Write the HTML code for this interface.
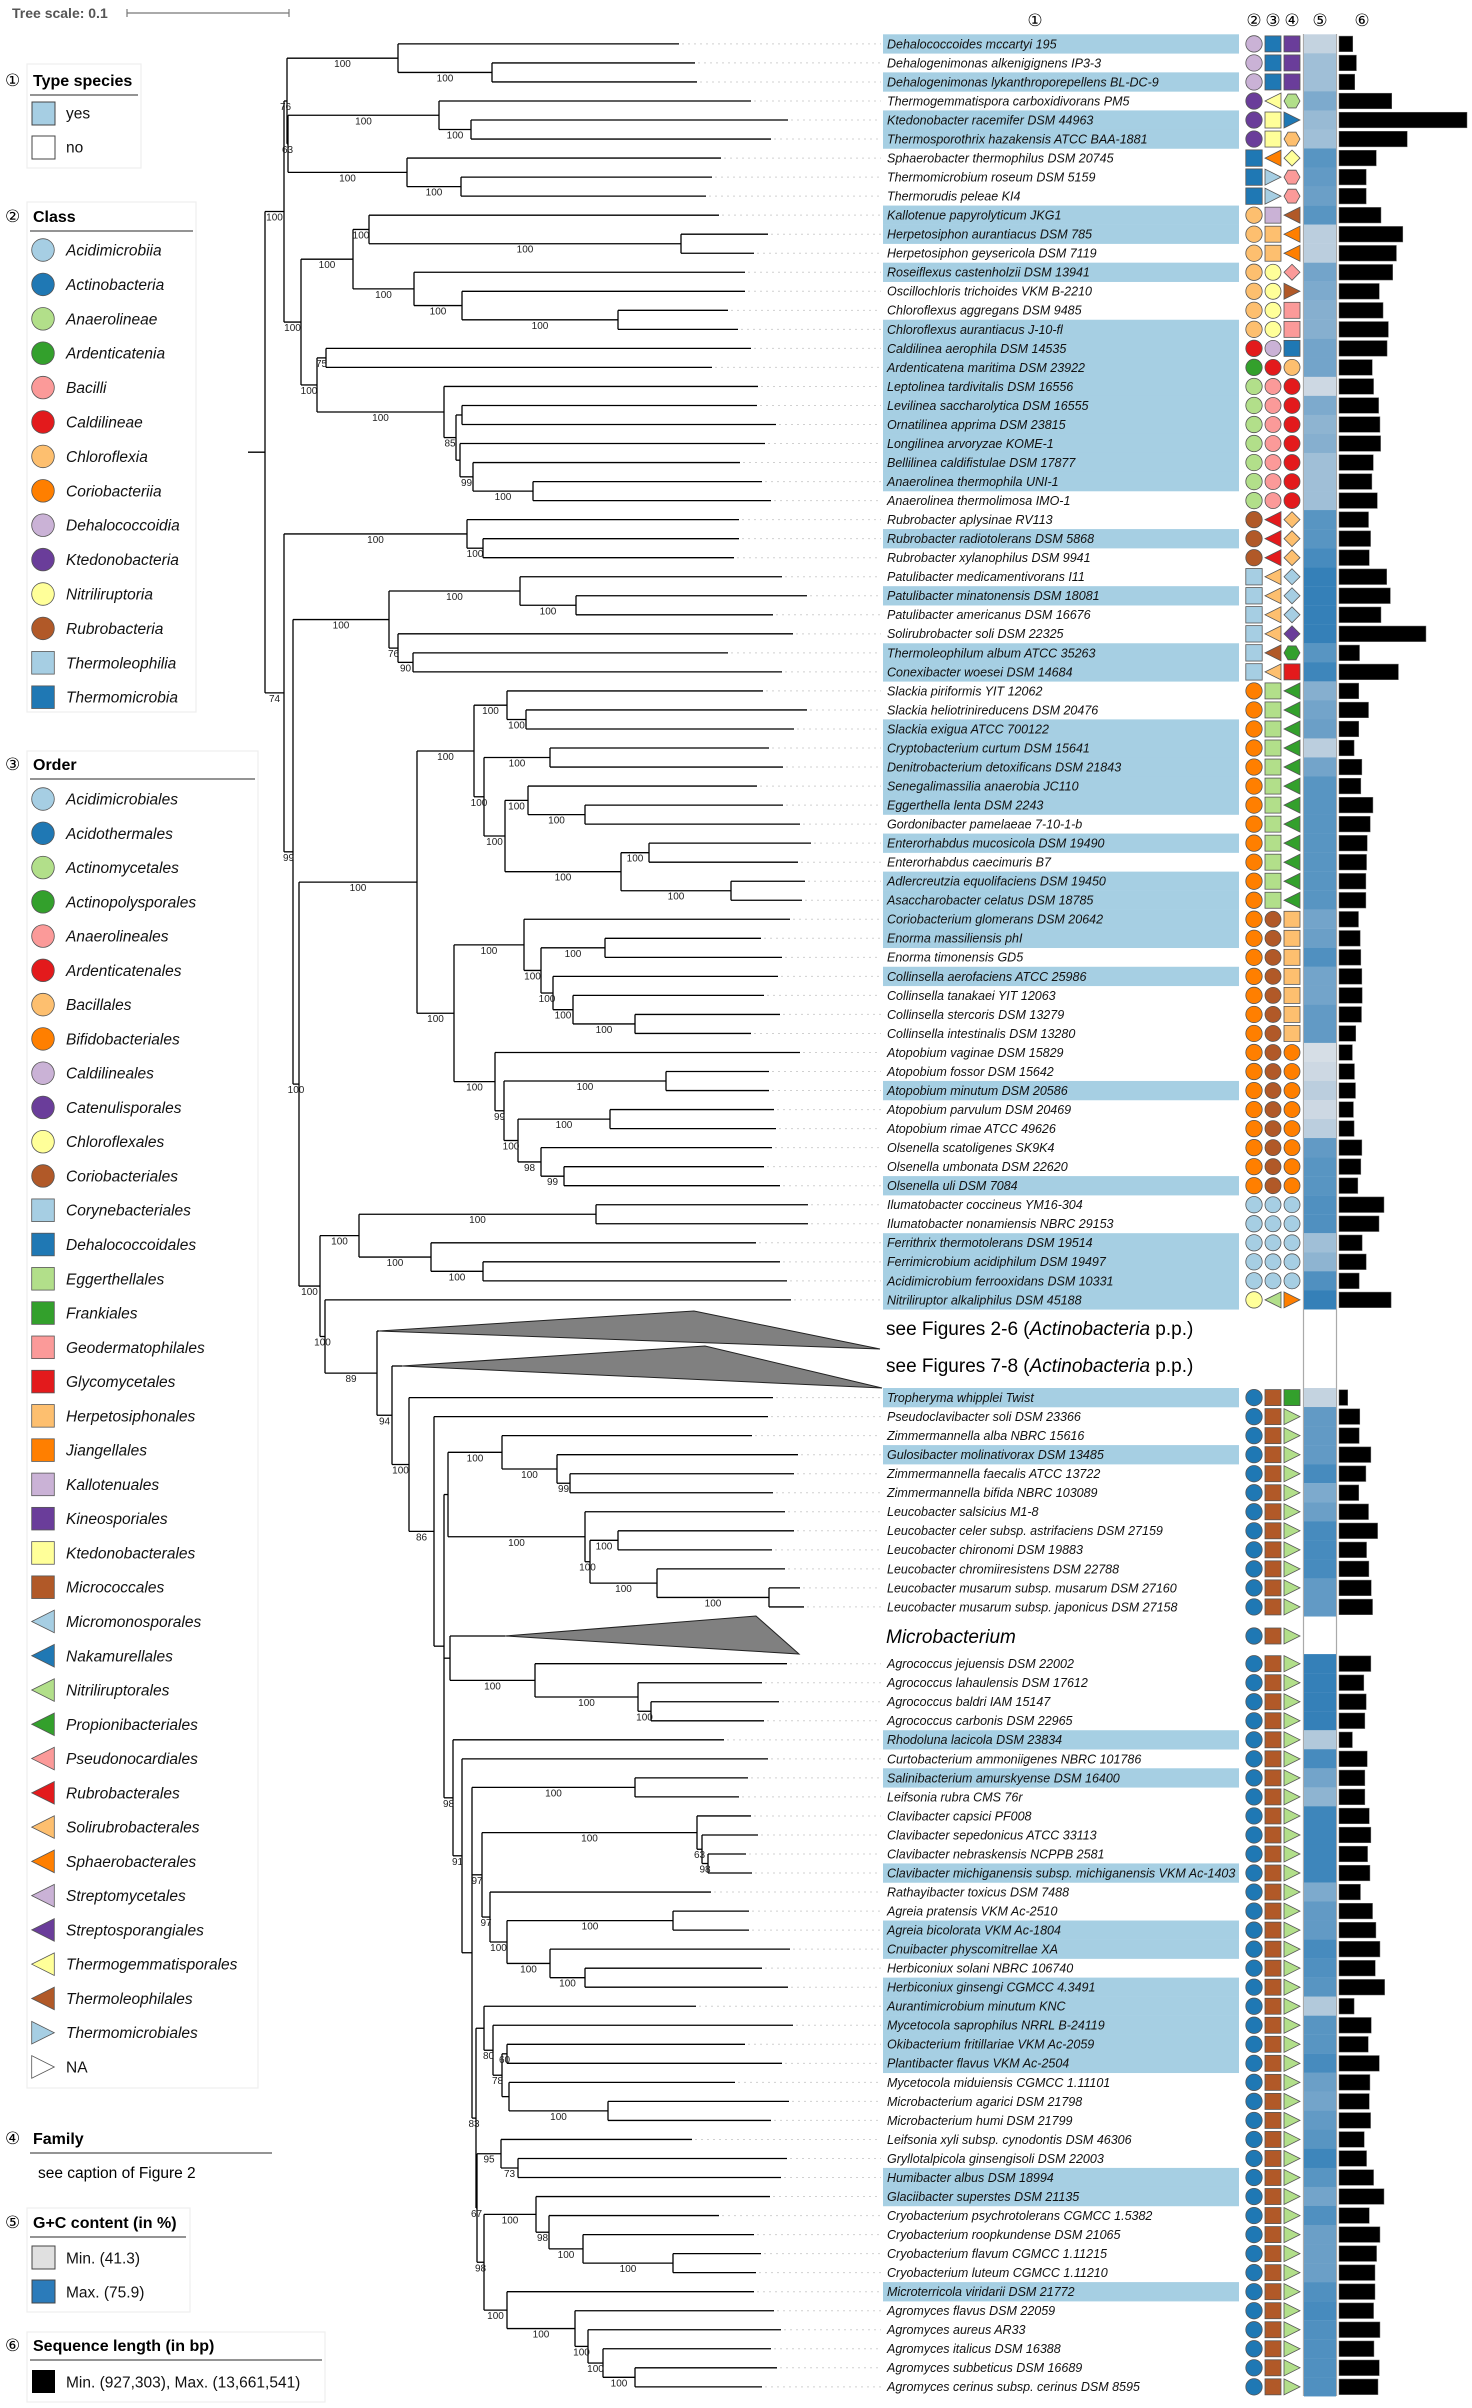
<!DOCTYPE html>
<html><head><meta charset="utf-8"><title>Phylogenomic tree</title>
<style>
html,body{margin:0;padding:0;background:#fff;}
svg{display:block;font-family:"Liberation Sans","DejaVu Sans",sans-serif;}
</style></head>
<body>
<svg id="fig" xmlns="http://www.w3.org/2000/svg" width="1472" height="2408" viewBox="0 0 1472 2408">
<rect x="0" y="0" width="1472" height="2408" fill="#fff"/>
<text x="12" y="18" font-size="14" font-weight="bold" fill="#555">Tree scale: 0.1</text>
<g stroke="#777" stroke-width="1.2"><line x1="127" y1="13" x2="289" y2="13"/><line x1="127" y1="9" x2="127" y2="17"/><line x1="289" y1="9" x2="289" y2="17"/></g>
</svg>
<script>
// ---------- DATA ----------
const names = ["Dehalococcoides mccartyi 195","Dehalogenimonas alkenigignens IP3-3","Dehalogenimonas lykanthroporepellens BL-DC-9","Thermogemmatispora carboxidivorans PM5","Ktedonobacter racemifer DSM 44963","Thermosporothrix hazakensis ATCC BAA-1881","Sphaerobacter thermophilus DSM 20745","Thermomicrobium roseum DSM 5159","Thermorudis peleae KI4","Kallotenue papyrolyticum JKG1","Herpetosiphon aurantiacus DSM 785","Herpetosiphon geysericola DSM 7119","Roseiflexus castenholzii DSM 13941","Oscillochloris trichoides VKM B-2210","Chloroflexus aggregans DSM 9485","Chloroflexus aurantiacus J-10-fl","Caldilinea aerophila DSM 14535","Ardenticatena maritima DSM 23922","Leptolinea tardivitalis DSM 16556","Levilinea saccharolytica DSM 16555","Ornatilinea apprima DSM 23815","Longilinea arvoryzae KOME-1","Bellilinea caldifistulae DSM 17877","Anaerolinea thermophila UNI-1","Anaerolinea thermolimosa IMO-1","Rubrobacter aplysinae RV113","Rubrobacter radiotolerans DSM 5868","Rubrobacter xylanophilus DSM 9941","Patulibacter medicamentivorans I11","Patulibacter minatonensis DSM 18081","Patulibacter americanus DSM 16676","Solirubrobacter soli DSM 22325","Thermoleophilum album ATCC 35263","Conexibacter woesei DSM 14684","Slackia piriformis YIT 12062","Slackia heliotrinireducens DSM 20476","Slackia exigua ATCC 700122","Cryptobacterium curtum DSM 15641","Denitrobacterium detoxificans DSM 21843","Senegalimassilia anaerobia JC110","Eggerthella lenta DSM 2243","Gordonibacter pamelaeae 7-10-1-b","Enterorhabdus mucosicola DSM 19490","Enterorhabdus caecimuris B7","Adlercreutzia equolifaciens DSM 19450","Asaccharobacter celatus DSM 18785","Coriobacterium glomerans DSM 20642","Enorma massiliensis phI","Enorma timonensis GD5","Collinsella aerofaciens ATCC 25986","Collinsella tanakaei YIT 12063","Collinsella stercoris DSM 13279","Collinsella intestinalis DSM 13280","Atopobium vaginae DSM 15829","Atopobium fossor DSM 15642","Atopobium minutum DSM 20586","Atopobium parvulum DSM 20469","Atopobium rimae ATCC 49626","Olsenella scatoligenes SK9K4","Olsenella umbonata DSM 22620","Olsenella uli DSM 7084","Ilumatobacter coccineus YM16-304","Ilumatobacter nonamiensis NBRC 29153","Ferrithrix thermotolerans DSM 19514","Ferrimicrobium acidiphilum DSM 19497","Acidimicrobium ferrooxidans DSM 10331","Nitriliruptor alkaliphilus DSM 45188","Tropheryma whipplei Twist","Pseudoclavibacter soli DSM 23366","Zimmermannella alba NBRC 15616","Gulosibacter molinativorax DSM 13485","Zimmermannella faecalis ATCC 13722","Zimmermannella bifida NBRC 103089","Leucobacter salsicius M1-8","Leucobacter celer subsp. astrifaciens DSM 27159","Leucobacter chironomi DSM 19883","Leucobacter chromiiresistens DSM 22788","Leucobacter musarum subsp. musarum DSM 27160","Leucobacter musarum subsp. japonicus DSM 27158","Agrococcus jejuensis DSM 22002","Agrococcus lahaulensis DSM 17612","Agrococcus baldri IAM 15147","Agrococcus carbonis DSM 22965","Rhodoluna lacicola DSM 23834","Curtobacterium ammoniigenes NBRC 101786","Salinibacterium amurskyense DSM 16400","Leifsonia rubra CMS 76r","Clavibacter capsici PF008","Clavibacter sepedonicus ATCC 33113","Clavibacter nebraskensis NCPPB 2581","Clavibacter michiganensis subsp. michiganensis VKM Ac-1403","Rathayibacter toxicus DSM 7488","Agreia pratensis VKM Ac-2510","Agreia bicolorata VKM Ac-1804","Cnuibacter physcomitrellae XA","Herbiconiux solani NBRC 106740","Herbiconiux ginsengi CGMCC 4.3491","Aurantimicrobium minutum KNC","Mycetocola saprophilus NRRL B-24119","Okibacterium fritillariae VKM Ac-2059","Plantibacter flavus VKM Ac-2504","Mycetocola miduiensis CGMCC 1.11101","Microbacterium agarici DSM 21798","Microbacterium humi DSM 21799","Leifsonia xyli subsp. cynodontis DSM 46306","Gryllotalpicola ginsengisoli DSM 22003","Humibacter albus DSM 18994","Glaciibacter superstes DSM 21135","Cryobacterium psychrotolerans CGMCC 1.5382","Cryobacterium roopkundense DSM 21065","Cryobacterium flavum CGMCC 1.11215","Cryobacterium luteum CGMCC 1.11210","Microterricola viridarii DSM 21772","Agromyces flavus DSM 22059","Agromyces aureus AR33","Agromyces italicus DSM 16388","Agromyces subbeticus DSM 16689","Agromyces cerinus subsp. cerinus DSM 8595"];
const typeSpeciesRows = [1,3,5,6,10,11,13,16,17,18,19,20,21,22,23,24,27,30,33,34,37,38,39,40,41,43,45,46,47,48,50,56,61,64,65,66,67,68,71,84,86,91,94,95,97,98,99,100,101,107,108,113];
const classRuns = [["c:lp",3],["c:p",3],["s:b",3],["c:lo",7],["c:r",1],["c:g",1],["c:lg",7],["c:br",3],["s:lb",6],["c:o",27],["c:lb",5],["c:y",1],["c:b",51]];
const orderRuns = [["s:b",3],["l:y",1],["s:y",2],["l:o",1],["r:lb",2],["s:lp",1],["s:lo",2],["c:y",4],["c:lp",1],["c:r",1],["c:pk",7],["l:r",3],["l:lo",4],["l:br",1],["l:lo",1],["s:lg",12],["c:br",15],["c:lb",5],["l:lg",1],["s:br",51]];
const familyRuns = [["s:p",3],["h:lg",1],["r:b",1],["h:lo",1],["d:y",1],["h:pk",2],["l:br",1],["l:o",2],["d:pk",1],["r:br",1],["s:pk",2],["s:b",1],["c:lo",1],["c:r",7],["d:lo",3],["d:lb",3],["d:p",1],["h:g",1],["s:r",1],["l:g",12],["s:lo",7],["c:o",8],["c:lb",5],["r:o",1],["s:g",1],["r:lg",50]];
const gcContent = [46.5,53.4,53.4,60.3,55.1,53.4,67.3,65.5,63.8,67.3,48.2,48.2,62.1,60.3,58.6,58.6,62.1,62.1,44.8,60.3,56.9,58.6,53.4,53.4,53.4,67.3,67.3,70.7,74.2,74.2,74.2,74.2,67.3,72.4,
58.6,62.1,63.8,48.2,62.1,67.3,67.3,67.3,67.3,67.3,67.3,67.3,62.1,63.8,69.0,62.1,62.1,65.5,65.5,43.0,44.8,48.2,44.8,48.2,65.5,67.3,67.3,69.0,69.0,53.4,56.9,69.0,74.2,
46.5,65.5,65.5,65.5,70.7,60.3,63.8,70.7,70.7,70.7,65.5,65.5,74.2,74.2,74.2,74.2,50.0,70.7,62.1,56.9,72.4,72.4,72.4,72.4,
60.3,65.5,65.5,70.7,69.0,67.3,50.0,67.3,67.3,70.7,63.8,62.1,65.5,67.3,72.4,67.3,62.1,69.0,63.8,63.8,63.8,69.0,70.7,69.0,69.0,69.0,69.0];
const seqLengthMb = [1.47,1.86,1.68,5.63,13.66,7.28,3.98,2.9,2.9,4.48,6.81,6.13,5.73,4.3,4.7,5.27,5.13,3.55,3.69,4.23,4.37,4.44,3.66,3.51,4.09,3.15,3.37,3.23,5.09,5.48,4.48,9.28,2.19,6.34,
2.11,3.15,2.11,1.61,2.44,2.33,3.62,3.33,3.01,2.94,2.87,2.87,2.08,2.26,2.33,2.44,2.47,2.4,1.79,1.43,1.65,1.76,1.54,1.61,2.44,2.33,2.01,4.8,4.27,2.47,2.9,2.15,5.56,
0.93,2.22,2.15,3.4,2.87,2.11,3.15,4.12,2.94,3.19,3.44,3.58,3.4,2.65,2.9,2.76,1.43,3.01,2.76,2.76,3.23,3.4,3.05,3.3,
2.29,3.58,3.94,4.37,3.87,4.87,1.61,3.44,3.12,4.3,3.3,3.23,3.37,2.69,2.94,3.69,4.8,3.23,4.37,4.01,3.84,3.84,3.69,4.37,3.73,4.3,4.16];
const classLegend = ["Acidimicrobiia","Actinobacteria","Anaerolineae","Ardenticatenia","Bacilli","Caldilineae","Chloroflexia","Coriobacteriia","Dehalococcoidia","Ktedonobacteria","Nitriliruptoria","Rubrobacteria","Thermoleophilia","Thermomicrobia"];
const classLegendSym = ["c:lb","c:b","c:lg","c:g","c:pk","c:r","c:lo","c:o","c:lp","c:p","c:y","c:br","s:lb","s:b"];
const orderLegend = ["Acidimicrobiales","Acidothermales","Actinomycetales","Actinopolysporales","Anaerolineales","Ardenticatenales","Bacillales","Bifidobacteriales","Caldilineales","Catenulisporales","Chloroflexales","Coriobacteriales","Corynebacteriales","Dehalococcoidales","Eggerthellales","Frankiales","Geodermatophilales","Glycomycetales","Herpetosiphonales","Jiangellales","Kallotenuales","Kineosporiales","Ktedonobacterales","Micrococcales","Micromonosporales","Nakamurellales","Nitriliruptorales","Propionibacteriales","Pseudonocardiales","Rubrobacterales","Solirubrobacterales","Sphaerobacterales","Streptomycetales","Streptosporangiales","Thermogemmatisporales","Thermoleophilales","Thermomicrobiales","NA"];
const orderLegendSym = ["c:lb","c:b","c:lg","c:g","c:pk","c:r","c:lo","c:o","c:lp","c:p","c:y","c:br","s:lb","s:b","s:lg","s:g","s:pk","s:r","s:lo","s:o","s:lp","s:p","s:y","s:br","l:lb","l:b","l:lg","l:g","l:pk","l:r","l:lo","l:o","l:lp","l:p","l:y","l:br","r:lb","r:w"];
const gcMin = 41.3, gcMax = 75.9;

const COL = {lb:'#a6cee3', b:'#1f78b4', lg:'#b2df8a', g:'#33a02c', pk:'#fb9a99', r:'#e31a1c', lo:'#fdbf6f', o:'#ff7f00', lp:'#cab2d6', p:'#6a3d9a', y:'#ffff99', br:'#b15928', w:'#ffffff'};

// ---------- TREE (node x, bootstrap, children; numbers = tip x of leaf) ----------
function N(x,bs,...c){return {x:x,bs:bs,c:c};}
function T(ax,dTop,dBot,xTop,xBot){return {tri:true,x:ax,dTop:dTop,dBot:dBot,xTop:xTop,xBot:xBot};}

const DEH = N(398,'100',679,N(492,'100',695,697));
const KTE = N(439,'100',751,N(471,'100',788,771));
const TMI = N(407,'100',721,N(461,'100',712,706));
const CHLX = N(353,'100', N(369,'100',719,N(681,'100',768,754)), N(414,'100',745,N(462,'100',745,N(618,'100',728,738))));
const ANA_IN = N(460,'',765,N(473,'99',740,N(533,'100',762,771)));
const ANA = N(317,'100', N(326,'75',751,712), N(444,'100',758,N(456,'85',N(462,'',757,776),ANA_IN)));
const CHLOROFLEXI = N(284,'100', N(287,'76', DEH, N(288,'63', KTE, TMI)), N(301,'100', CHLX, ANA));

const EGG_A = N(507,'100',763,N(526,'100',807,794));
const EGG_B = N(505,'100', N(528,'100',757,N(585,'100',783,800)), N(621,'100',N(649,'100',811,798),N(731,'100',805,802)));
const EGG = N(474,'100', EGG_A, N(484,'100', N(550,'100',769,783), EGG_B));
const COR_A = N(524,'100',790,N(541,'100',N(605,'100',761,782),N(553,'100',778,N(573,'100',764,N(635,'100',780,751)))));
const COR_B = N(495,'100',800,N(504,'99',N(666,'100',769,769),N(518,'100',N(610,'100',774,776),N(541,'98',772,N(564,'99',764,780)))));
const COR = N(454,'100', COR_A, COR_B);
const ACI = N(359,'100', N(596,'100',808,808), N(431,'100',756,N(483,'100',780,787)));

const CLAV = N(482,'97', N(697,'100',751,N(702,'63',758,N(708,'98',746,752))), N(490,'97',711,N(507,'100',N(673,'100',749,749),N(550,'100',790,N(585,'100',762,788)))));
const MYC = N(484,'', 696, N(493,'80',793,N(502,'78',N(507,'60',745,782),N(509,'',735,N(608,'100',789,771)))));
const CRYO = N(536,'100',770,N(549,'98',719,N(583,'100',754,N(673,'100',761,756))));
const AGRO = N(507,'100',754,N(575,'100',774,N(588,'100',781,N(603,'100',771,N(635,'100',777,762)))));
const LOW2 = N(477,'67', N(501,'95',692,N(518,'73',787,781)), N(484,'98', CRYO, AGRO));
const LOWER = N(453,'98', 724, N(462,'91', 768, N(472,'', N(635,'100',748,739), CLAV, N(476,'83', MYC, LOW2))));
const LEUCO = N(448,'', N(502,'100',752,N(557,'100',798,N(570,'99',794,773))), N(585,'100',785,N(590,'100',N(618,'100',794,772),N(657,'100',785,N(769,'100',800,804)))));
const AGRC = N(450,'', T(505,-20,18,756,799), N(535,'100',787,N(638,'100',762,N(651,'100',779,764))));
const MICRO = N(409,'100', 773, N(434,'86', 768, N(444,'', LEUCO, AGRC, LOWER)));

const THL = N(389,'100',N(520,'100',782,N(576,'100',807,773)),N(398,'76',793,N(413,'90',728,782)));
const ACTINO = N(320,'100', ACI, N(325,'100',791, N(377,'89', T(379,-20,18,694,880), N(392,'94', T(402,-20,22,705,882), MICRO))));
const BOTTOM = N(284,'74', N(467,'100',739,N(483,'100',739,734)), N(293,'99', THL, N(299,'100', N(417,'100', EGG, COR), ACTINO)));
const TREE = N(265,'', CHLOROFLEXI, BOTTOM);

// ---------- HELPERS ----------
const svg = document.getElementById('fig');
const NS = 'http://www.w3.org/2000/svg';
function mk(tag, attrs, parent){const e=document.createElementNS(NS,tag);for(const k in attrs)e.setAttribute(k,attrs[k]);(parent||svg).appendChild(e);return e;}
function expand(runs){const out=[];runs.forEach(r=>{for(let i=0;i<r[1];i++)out.push(r[0]);});return out;}
const classSym = expand(classRuns), orderSym = expand(orderRuns), familySym = expand(familyRuns);
function rowY(i){
  if(i<=67) return 43.9+(i-1)*19.03;
  if(i<=79) return 1397.6+(i-68)*19.03;
  return 1663.7+(i-80)*19.03;
}
const slotY = [];
for(let i=1;i<=67;i++) slotY.push(rowY(i));
slotY.push(1331); slotY.push(1366);
for(let i=68;i<=79;i++) slotY.push(rowY(i));
slotY.push(1636);
for(let i=80;i<=118;i++) slotY.push(rowY(i));

function sym(code, cx, cy, s, parent, name){
  const parts = String(code||'c:w').split(':'); const sh=parts[0]; const fill = COL[parts[1]]||'#fff'; let e;
  const st = {fill:fill, stroke:'#555', 'stroke-width':0.8};
  if(sh==='c') e = mk('circle', Object.assign({cx:cx,cy:cy,r:s},st), parent);
  else if(sh==='s') e = mk('rect', Object.assign({x:cx-s,y:cy-s,width:2*s,height:2*s},st), parent);
  else { let p;
    if(sh==='l') p=[[cx+s,cy-s],[cx+s,cy+s],[cx-s,cy]];
    else if(sh==='r') p=[[cx-s,cy-s],[cx-s,cy+s],[cx+s,cy]];
    else if(sh==='d') p=[[cx,cy-s],[cx+s,cy],[cx,cy+s],[cx-s,cy]];
    else { p=[]; for(let k=0;k<6;k++){const a=Math.PI/3*k; p.push([cx+s*Math.cos(a),cy+s*Math.sin(a)]);} }
    e = mk('polygon', Object.assign({points:p.map(q=>q.join(',')).join(' ')},st), parent);
  }
  
  
  return e;
}
function gcColor(v){
  const t=Math.max(0,Math.min(1,(v-gcMin)/(gcMax-gcMin)));
  const a=[223,227,232], b=[44,123,182];
  return 'rgb('+a.map((x,i)=>Math.round(x+(b[i]-x)*t)).join(',')+')';
}

// ---------- TREE LAYOUT ----------
const gDots = mk('g',{stroke:'#d0d0d0','stroke-width':1,'stroke-dasharray':'2,4'});


const gTree = mk('g',{stroke:'#000','stroke-width':1.3,fill:'none'});


const gBs = mk('g',{'font-size':10,fill:'#222'});


let slot = 0;
function layout(n){
  if(typeof n==='number'){ const y=slotY[slot++]; return {y:y,leaf:true,tip:n}; }
  if(n.tri){ const y=slotY[slot++]; return {y:y,tri:n}; }
  const kids = n.c.map(layout);
  const y = (kids[0].y + kids[kids.length-1].y)/2;
  n.y = y; n.kids = kids;
  return {y:y,node:n};
}
layout(TREE);
function draw(n, parentX){
  const ln = mk('line',{x1:parentX,y1:n.y,x2:n.x,y2:n.y},gTree);
  
  
  if(n.bs){ const t=mk('text',{x:(parentX+n.x)/2,y:n.y+9,'text-anchor':'middle'},gBs); t.textContent=n.bs;
    
     }
  const ys = n.kids.map(k=>k.y);
  const v = mk('line',{x1:n.x,y1:Math.min(...ys),x2:n.x,y2:Math.max(...ys)},gTree);
  
  
  n.kids.forEach(k=>{
    if(k.leaf){
      const h=mk('line',{x1:n.x,y1:k.y,x2:k.tip,y2:k.y},gTree);
      
      
      const d=mk('line',{x1:k.tip+3,y1:k.y,x2:881,y2:k.y},gDots);
      
      
    } else if(k.tri){
      const t=k.tri;
      const h=mk('line',{x1:n.x,y1:k.y,x2:t.x,y2:k.y},gTree);
      
      
      const p=mk('polygon',{points:t.x+','+k.y+' '+t.xTop+','+(k.y+t.dTop)+' '+t.xBot+','+(k.y+t.dBot),fill:'#808080',stroke:'#222','stroke-width':1},svg);
      
      
    } else draw(k.node, n.x);
  });
}
draw(TREE, 248);

// collapsed clade labels
[[1335,'see Figures 2-6 (','Actinobacteria',' p.p.)'],[1372,'see Figures 7-8 (','Actinobacteria',' p.p.)']].forEach((a,i)=>{
  const t=mk('text',{x:886,y:a[0],'font-size':19});
  
  
  const s1=mk('tspan',{},t); s1.textContent=a[1];
  const s2=mk('tspan',{'font-style':'italic'},t); s2.textContent=a[2];
  const s3=mk('tspan',{},t); s3.textContent=a[3];
});
const mt=mk('text',{x:886,y:1643,'font-size':19,'font-style':'italic'}); mt.textContent='Microbacterium';



// ---------- COLUMN HEADERS ----------
[['①',1035],['②',1254],['③',1273],['④',1292],['⑤',1320],['⑥',1362]].forEach((h,i)=>{
  const t=mk('text',{x:h[1],y:26,'font-size':17,'text-anchor':'middle','font-family':'DejaVu Sans, Liberation Sans, sans-serif'});
  t.textContent=h[0];
  
  
});

// ---------- GC column frame ----------
const gcFrame1=mk('line',{x1:1303.5,y1:34,x2:1303.5,y2:2396,stroke:'#aaa','stroke-width':1.2});


const gcFrame2=mk('line',{x1:1336.5,y1:34,x2:1336.5,y2:2396,stroke:'#aaa','stroke-width':1.2});



// ---------- ROWS ----------
const gRows = mk('g',{});


const seqScale = 128/13.66;
names.forEach((nm,idx)=>{
  const i=idx+1, y=rowY(i);
  const g=mk('g',{},gRows);
  
  
  if(typeSpeciesRows.includes(i)){
    const r=mk('rect',{x:883,y:y-9.6,width:356,height:19.3,fill:'#a6cfe3'},g);
    
    
  }
  const t=mk('text',{x:887,y:y+4.4,'font-size':12.5,'font-style':'italic',fill:'#111'},g);
  t.textContent=nm;
  
  
  sym(classSym[idx],1254,y,8.2,g,'class-symbol');
  sym(orderSym[idx],1273,y,8,g,'order-symbol');
  sym(familySym[idx],1292,y,8,g,'family-symbol');
  const c=mk('rect',{x:1304,y:y-9.6,width:32,height:19.2,fill:gcColor(gcContent[idx])},g);
  
  
  const b=mk('rect',{x:1339,y:y-7.8,width:seqLengthMb[idx]*seqScale,height:15.6,fill:'#000',stroke:'#666','stroke-width':0.5},g);
  
  
});
sym('c:b',1254,1636,8.2,svg,'microbacterium-class-symbol');
sym('s:br',1273,1636,8,svg,'microbacterium-order-symbol');
sym('r:lg',1292,1636,8,svg,'microbacterium-family-symbol');

// ---------- LEGENDS ----------
function box(x,y,w,h,name){const r=mk('rect',{x:x,y:y,width:w,height:h,fill:'#fff',stroke:'#eee','stroke-width':1.2});}
function header(num,label,y,x2,name){
  const n=mk('text',{x:5,y:y+6,'font-size':17,'font-family':'DejaVu Sans, Liberation Sans, sans-serif'}); n.textContent=num;
  
  
  const t=mk('text',{x:33,y:y+6,'font-size':16,'font-weight':'bold'}); t.textContent=label;
  
  
  const l=mk('line',{x1:30,y1:y+15,x2:x2,y2:y+15,stroke:'#555','stroke-width':1.2});
  
  
}
function entry(y,label,italic,name){
  const t=mk('text',{x:66,y:y+5.5,'font-size':15.5,'font-style':italic?'italic':'normal',fill:'#111'}); t.textContent=label;
  
  
}
box(27,64,114,104,'type-species-legend-box');
header('①','Type species',80,138,'type-species-legend');
const ys1=mk('rect',{x:32,y:102,width:23,height:23,fill:'#a6cee3',stroke:'#444','stroke-width':1});


entry(113,'yes',false,'legend-entry-yes');
const ns1=mk('rect',{x:32,y:136,width:23,height:23,fill:'#fff',stroke:'#444','stroke-width':1});


entry(147,'no',false,'legend-entry-no');

box(27,202,169,510,'class-legend-box');
header('②','Class',216,193,'class-legend');
classLegend.forEach((c,i)=>{const y=250+i*34.4; sym(classLegendSym[i],43,y,11.3,svg,'class-legend-symbol'); entry(y,c,true,'class-legend-entry');});

box(27,751,231,1337,'order-legend-box');
header('③','Order',764,255,'order-legend');
orderLegend.forEach((c,i)=>{const y=799+i*34.27; sym(orderLegendSym[i],43,y,11.3,svg,'order-legend-symbol'); entry(y,c,c!=='NA','order-legend-entry');});

header('④','Family',2138,272,'family-legend');
const fc=mk('text',{x:38,y:2178,'font-size':15.5}); fc.textContent='see caption of Figure 2';



box(27,2208,163,104,'gc-legend-box');
header('⑤','G+C content (in %)',2222,186,'gc-legend');
const gmin=mk('rect',{x:32,y:2246,width:23,height:23,fill:'#e0e0e0',stroke:'#444','stroke-width':1});


entry(2258,'Min. ('+gcMin+')',false,'gc-legend-min');
const gmax=mk('rect',{x:32,y:2280,width:23,height:23,fill:'#2b7bba',stroke:'#444','stroke-width':1});


entry(2292,'Max. ('+gcMax+')',false,'gc-legend-max');

box(27,2332,298,70,'sequence-length-legend-box');
header('⑥','Sequence length (in bp)',2345,322,'sequence-length-legend');
const sq=mk('rect',{x:32,y:2370,width:23,height:23,fill:'#000'});


entry(2382,'Min. (927,303), Max. (13,661,541)',false,'sequence-length-legend-entry');
</script>
</body></html>
